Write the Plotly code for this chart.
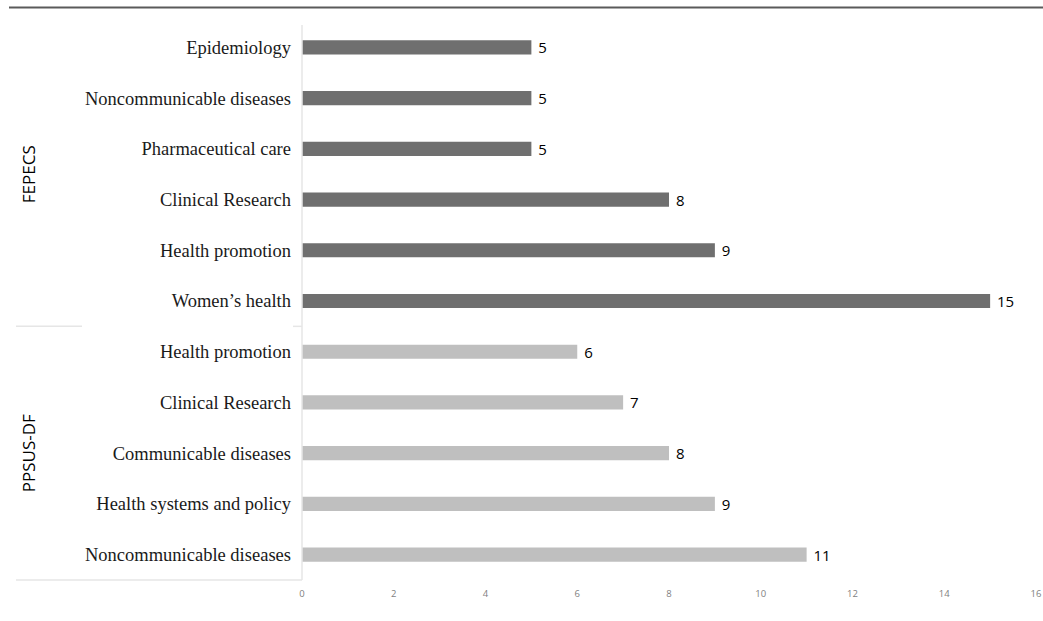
import plotly.graph_objects as go

# Data (bottom to top)
ppsus_categories = ["Noncommunicable diseases", "Health systems and policy",
                    "Communicable diseases", "Clinical Research", "Health promotion"]
ppsus_values = [11, 9, 8, 7, 6]
fepecs_categories = ["Women’s health", "Health promotion", "Clinical Research",
                     "Pharmaceutical care", "Noncommunicable diseases", "Epidemiology"]
fepecs_values = [15, 9, 8, 5, 5, 5]
group_names = ["PPSUS-DF", "FEPECS"]
x_ticks = [0, 2, 4, 6, 8, 10, 12, 14, 16]

n_p = len(ppsus_categories)
n_f = len(fepecs_categories)
pos_p = list(range(n_p))
pos_f = list(range(n_p, n_p + n_f))
n_all = n_p + n_f

W, H = 1043, 621
ml, mr, mt, mb = 302, 7, 22, 41
pw = W - ml - mr
ph = H - mt - mb

def px2paper_x(px):
    return (px - ml) / pw

def px2paper_y(py):
    return (H - mb - py) / ph

sans = "Open Sans, Liberation Sans, sans-serif"
label_font = dict(family=sans, size=15, color="#000000")

fig = go.Figure()
fig.add_trace(go.Bar(
    y=pos_p, x=ppsus_values, orientation="h", width=0.28,
    marker=dict(color="#bfbfbf", line=dict(width=0)),
    text=[f" {v}" for v in ppsus_values], textposition="outside",
    constraintext="none", hoverinfo="skip",
    textfont=label_font, cliponaxis=False, showlegend=False,
))
fig.add_trace(go.Bar(
    y=pos_f, x=fepecs_values, orientation="h", width=0.28,
    marker=dict(color="#6f6f6f", line=dict(width=0)),
    text=[f" {v}" for v in fepecs_values], textposition="outside",
    constraintext="none", hoverinfo="skip",
    textfont=label_font, cliponaxis=False, showlegend=False,
))

shapes = []
line_col = "#e6e6e6"
sep_y = (pos_p[-1] + pos_f[0]) / 2
shapes.append(dict(type="line", xref="paper", yref="y",
                   x0=px2paper_x(16), x1=px2paper_x(82), y0=sep_y, y1=sep_y,
                   line=dict(color=line_col, width=1.5)))
shapes.append(dict(type="line", xref="paper", yref="y",
                   x0=px2paper_x(293), x1=0, y0=sep_y, y1=sep_y,
                   line=dict(color=line_col, width=1.5)))
shapes.append(dict(type="line", xref="paper", yref="paper",
                   x0=px2paper_x(16), x1=0, y0=0, y1=0,
                   line=dict(color=line_col, width=1.5)))
shapes.append(dict(type="line", xref="paper", yref="paper",
                   x0=0, x1=0, y0=0, y1=px2paper_y(25),
                   line=dict(color=line_col, width=1.5)))
shapes.append(dict(type="line", xref="paper", yref="paper",
                   x0=px2paper_x(9), x1=px2paper_x(1043),
                   y0=px2paper_y(7.5), y1=px2paper_y(7.5),
                   line=dict(color="#5a5a5a", width=1.8)))

annotations = []
for name, pos in zip(group_names, [pos_p, pos_f]):
    annotations.append(dict(
        xref="paper", yref="y", x=px2paper_x(28), y=(pos[0] + pos[-1]) / 2,
        text=name, showarrow=False, textangle=-90,
        font=dict(family=sans, size=17, color="#000000"),
        xanchor="center", yanchor="middle",
    ))

fig.update_layout(
    template="none",
    width=W, height=H,
    margin=dict(l=ml, r=mr, t=mt, b=mb, autoexpand=False),
    paper_bgcolor="white", plot_bgcolor="white",
    shapes=shapes, annotations=annotations,
    hovermode=False,
    xaxis=dict(range=[0, 16], tickvals=x_ticks, showgrid=False, zeroline=False,
               showline=False, ticks="", automargin=False, ticklabelstandoff=6,
               tickfont=dict(family=sans, size=9.5, color="#7f7f7f")),
    yaxis=dict(range=[-0.5, n_all - 0.5], tickvals=pos_p + pos_f,
               ticktext=ppsus_categories + fepecs_categories,
               showgrid=False, zeroline=False, showline=False, ticks="",
               automargin=False, ticklabelstandoff=10,
               tickfont=dict(family="Liberation Serif, DejaVu Serif, serif", size=18.5, color="#1a1a1a")),
)

fig.write_html("out.html", config={"displayModeBar": False},
               post_script="document.body.style.margin='0';document.body.style.overflow='hidden';")
